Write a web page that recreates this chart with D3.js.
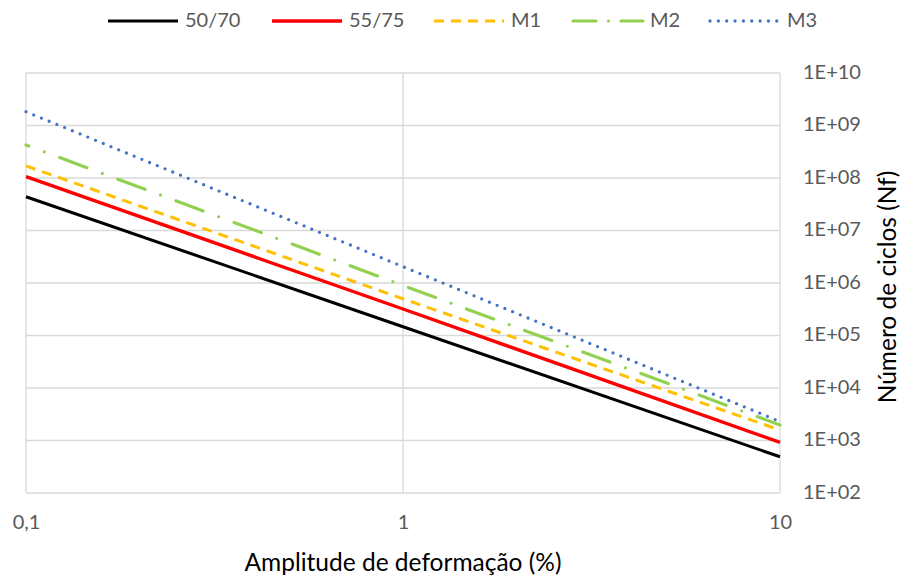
<!DOCTYPE html>
<html>
<head>
<meta charset="utf-8">
<script src="https://cdn.jsdelivr.net/npm/d3@7"></script>
<style>
  html, body { margin: 0; padding: 0; background: #fff; }
  svg { display: block; font-family: Lato, "Open Sans", sans-serif; }
</style>
</head>
<body>
<svg id="chart" width="902" height="579"></svg>
<script>
// Strain amplitude (%) at which each fatigue curve is sampled
const strain = [0.1, 1, 10];

// Number of cycles to failure (Nf) for each binder
const nf5070 = [4.4e7, 1.47e5, 4.9e2];
const nf5575 = [1.06e8, 3.2e5, 9.2e2];
const nfM1   = [1.7e8, 5.0e5, 1.58e3];
const nfM2   = [4.25e8, 9.0e5, 1.97e3];
const nfM3   = [1.83e9, 2.05e6, 2.3e3];

const seriesNames = ["50/70", "55/75", "M1", "M2", "M3"];
const seriesValues = [nf5070, nf5575, nfM1, nfM2, nfM3];

const xTicks = [0.1, 1, 10];
const xTickLabels = ["0,1", "1", "10"];
const yTicks = [1e2, 1e3, 1e4, 1e5, 1e6, 1e7, 1e8, 1e9, 1e10];
const yTickLabels = ["1E+02", "1E+03", "1E+04", "1E+05", "1E+06", "1E+07", "1E+08", "1E+09", "1E+10"];

const styles = {
  "50/70": { color: "#000000", width: 3, dash: null, cap: "butt", offset: 0 },
  "55/75": { color: "#ff0000", width: 3.4, dash: null, cap: "butt", offset: 0 },
  "M1":    { color: "#ffc000", width: 3, dash: "10 7", cap: "butt", offset: 0 },
  "M2":    { color: "#92d050", width: 3.2, dash: "29 16.5 0 16.5", cap: "round", offset: 26 },
  "M3":    { color: "#4472c4", width: 3.3, dash: "0 8.35", cap: "round", offset: 0 }
};

const svg = d3.select("#chart");
const plotLeft = 26, plotRight = 780, plotTop = 73, plotBottom = 493;

const x = d3.scaleLog().domain([0.1, 10]).range([plotLeft, plotRight]);
const y = d3.scaleLog().domain([1e2, 1e10]).range([plotBottom, plotTop]);

// Grid
const grid = svg.append("g");
grid.selectAll("line.h").data(yTicks).join("line")
  .attr("x1", plotLeft).attr("x2", plotRight)
  .attr("y1", d => y(d)).attr("y2", d => y(d))
  .attr("stroke", "#d9d9d9").attr("stroke-width", 1.3);
grid.selectAll("line.v").data(xTicks).join("line")
  .attr("y1", plotTop).attr("y2", plotBottom)
  .attr("x1", d => x(d)).attr("x2", d => x(d))
  .attr("stroke", "#d9d9d9").attr("stroke-width", 1.3);

// Axes (labels only; the grid acts as frame)
const xAxis = d3.axisBottom(x).tickValues(xTicks)
  .tickFormat((d, i) => xTickLabels[i]).tickSize(0).tickPadding(0);
const gx = svg.append("g").attr("transform", `translate(0,${plotBottom})`).call(xAxis);
gx.select(".domain").remove();
gx.selectAll("text").attr("dy", null).attr("y", 31)
  .attr("dominant-baseline", "middle")
  .attr("font-size", 20).attr("fill", "#595959").attr("font-family", "Lato, sans-serif");

const yAxis = d3.axisRight(y).tickValues(yTicks)
  .tickFormat((d, i) => yTickLabels[i]).tickSize(0).tickPadding(0);
const gy = svg.append("g").attr("transform", `translate(${plotRight},0)`).call(yAxis);
gy.select(".domain").remove();
gy.selectAll("text").attr("x", 23).attr("dy", null)
  .attr("dominant-baseline", "middle")
  .attr("font-size", 20).attr("fill", "#595959").attr("font-family", "Lato, sans-serif");

// Curves
const line = d3.line().x(d => x(d[0])).y(d => y(d[1]));
const plot = svg.append("g");
seriesNames.forEach((name, i) => {
  const s = styles[name];
  const pts = strain.map((v, j) => [v, seriesValues[i][j]]);
  plot.append("path")
    .datum(pts)
    .attr("d", line)
    .attr("fill", "none")
    .attr("stroke", s.color)
    .attr("stroke-width", s.width)
    .attr("stroke-linecap", s.cap)
    .attr("stroke-dasharray", s.dash)
    .attr("stroke-dashoffset", s.offset);
});

// Axis titles
svg.append("text")
  .attr("x", 403).attr("y", 565)
  .attr("text-anchor", "middle").attr("dominant-baseline", "middle")
  .attr("font-size", 24.5).attr("fill", "#000")
  .text("Amplitude de deformação (%)");
svg.append("text")
  .attr("transform", "translate(890,287) rotate(-90)")
  .attr("text-anchor", "middle").attr("dominant-baseline", "middle")
  .attr("font-size", 24.5).attr("fill", "#000")
  .text("Número de ciclos (Nf)");

// Legend
const legendX = [108, 272, 434, 573, 710];
const legend = svg.append("g");
seriesNames.forEach((name, i) => {
  const s = styles[name];
  const g = legend.append("g").attr("transform", `translate(${legendX[i]},21)`);
  g.append("line")
    .attr("x1", 0).attr("x2", 70).attr("y1", 0).attr("y2", 0)
    .attr("stroke", s.color).attr("stroke-width", s.width)
    .attr("stroke-linecap", s.cap === "round" ? "round" : "butt")
    .attr("stroke-dasharray", name === "M2" ? "23 12.5 0 12.5" : s.dash)
    .attr("stroke-dashoffset", 0);
  g.append("text")
    .attr("x", 77).attr("y", 1)
    .attr("dominant-baseline", "middle")
    .attr("font-size", 20).attr("fill", "#595959")
    .text(name);
});
</script>
</body>
</html>
